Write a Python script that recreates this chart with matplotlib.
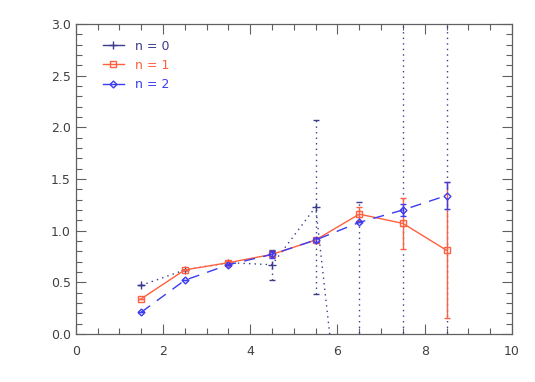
import matplotlib
matplotlib.use("Agg")
import matplotlib.pyplot as plt
from matplotlib.ticker import MultipleLocator
from matplotlib.lines import Line2D

x = [1.5, 2.5, 3.5, 4.5, 5.5, 6.5, 7.5, 8.5]
n0 = [0.47, 0.62, 0.69, 0.67, 1.23, -2.6, -3.0, -2.0]
n0_err = [0.0, 0.0, 0.0, 0.145, 0.84, 3.88, 7.0, 6.0]
n1 = [0.34, 0.62, 0.69, 0.77, 0.91, 1.16, 1.07, 0.81]
n1_err = [0.0, 0.0, 0.02, 0.02, 0.02, 0.07, 0.25, 0.66]
n2 = [0.21, 0.52, 0.67, 0.77, 0.91, 1.08, 1.20, 1.34]
n2_err = [0.0, 0.0, 0.0, 0.03, 0.02, 0.0, 0.06, 0.13]
labels = ["n = 0", "n = 1", "n = 2"]

c0 = "#3c3c8c"
c1 = "#ff6040"
c2 = "#3c3cf0"

fig = plt.figure(figsize=(5.35, 3.82), dpi=100)
ax = fig.add_axes([0.1415, 0.1257, 0.8155, 0.8115])

def draw(y, e, col, ls, mk, ms, z):
    ax.plot(x, y, color=col, linestyle=ls, linewidth=1.0, marker=mk,
            markersize=ms, markerfacecolor="none", markeredgecolor=col,
            markeredgewidth=1.0, zorder=z)
    eb = ax.errorbar(x, y, yerr=e, fmt="none", ecolor=col, elinewidth=1.0,
                     capsize=2, capthick=1.0, zorder=z)
    for lc in eb[2]:
        lc.set_linestyle(ls)

draw(n0, n0_err, c0, (0, (1, 3)), "+", 5.5, 2)
draw(n1, n1_err, c1, "-", "s", 5, 3)
draw(n2, n2_err, c2, (0, (8, 6)), "D", 3.5, 4)

ax.set_xlim(0, 10)
ax.set_ylim(0, 3.0)
ax.xaxis.set_major_locator(MultipleLocator(2))
ax.xaxis.set_minor_locator(MultipleLocator(0.5))
ax.yaxis.set_major_locator(MultipleLocator(0.5))
ax.yaxis.set_minor_locator(MultipleLocator(0.1))
ax.xaxis.set_major_formatter(matplotlib.ticker.FormatStrFormatter("%d"))
ax.yaxis.set_major_formatter(matplotlib.ticker.FormatStrFormatter("%.1f"))
ax.tick_params(which="both", direction="in", top=True, right=True,
               colors="#606060", labelcolor="#404040", labelsize=9)
ax.tick_params(which="major", length=7, width=0.8)
ax.tick_params(which="minor", length=4, width=0.8)
ax.tick_params(axis="x", pad=8)
for s in ax.spines.values():
    s.set_color("#606060")
    s.set_linewidth(0.9)

handles = [
    Line2D([], [], color=c0, lw=1.0, marker="+", ms=5.5, mfc="none"),
    Line2D([], [], color=c1, lw=1.0, marker="s", ms=5, mfc="none"),
    Line2D([], [], color=c2, lw=1.0, marker="D", ms=3.5, mfc="none"),
]
leg = ax.legend(handles, labels, loc="upper left", frameon=False, fontsize=9,
                handlelength=1.7, handletextpad=0.9,
                bbox_to_anchor=(0.036, 0.986), labelspacing=0.5)
for t, col in zip(leg.get_texts(), [c0, c1, c2]):
    t.set_color(col)

fig.savefig("out.png", dpi=100)
